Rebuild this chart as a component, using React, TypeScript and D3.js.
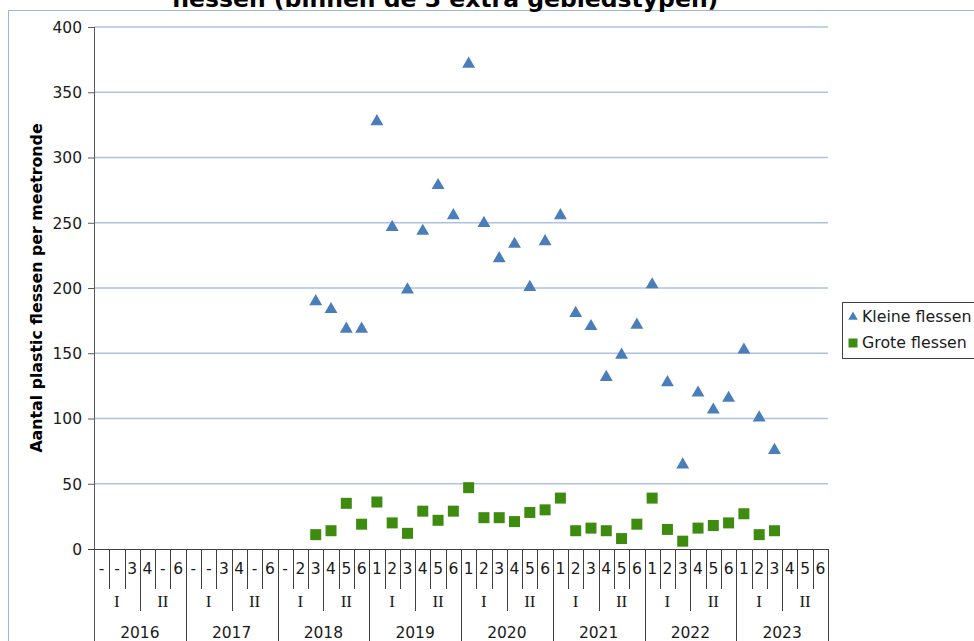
import React, { useRef, useEffect } from "react";
import * as d3 from "d3";

const years = ["2016", "2017", "2018", "2019", "2020", "2021", "2022", "2023"];
const halves = ["I", "II"];
const slotLabels = [
  ["-", "-", "3", "4", "-", "6"],
  ["-", "-", "3", "4", "-", "6"],
  ["-", "2", "3", "4", "5", "6"],
  ["1", "2", "3", "4", "5", "6"],
  ["1", "2", "3", "4", "5", "6"],
  ["1", "2", "3", "4", "5", "6"],
  ["1", "2", "3", "4", "5", "6"],
  ["1", "2", "3", "4", "5", "6"],
];

// per year, slots 1..6 (null = no measurement)
const kleineFlessen = [
  [null, null, null, null, null, null],
  [null, null, null, null, null, null],
  [null, null, 191, 185, 170, 170],
  [329, 248, 200, 245, 280, 257],
  [373, 251, 224, 235, 202, 237],
  [257, 182, 172, 133, 150, 173],
  [204, 129, 66, 121, 108, 117],
  [154, 102, 77, null, null, null],
];
const groteFlessen = [
  [null, null, null, null, null, null],
  [null, null, null, null, null, null],
  [null, null, 11, 14, 35, 19],
  [36, 20, 12, 29, 22, 29],
  [47, 24, 24, 21, 28, 30],
  [39, 14, 16, 14, 8, 19],
  [39, 15, 6, 16, 18, 20],
  [27, 11, 14, null, null, null],
];
const yTicks = [0, 50, 100, 150, 200, 250, 300, 350, 400];

const title = "flessen (binnen de 3 extra gebiedstypen)";
const yTitle = "Aantal plastic flessen per meetronde";
const seriesNames = ["Kleine flessen", "Grote flessen"];

const W = 974;
const H = 641;
const blue = "#4a7ebb";
const green = "#3d8b0f";
const sans = "'DejaVu Sans', Verdana, sans-serif";

const App = () => {
  const chartRef = useRef(null);

  useEffect(() => {
    const svg = d3.select(chartRef.current);
    svg.selectAll("*").remove();

    const margin = { top: 27, left: 94, right: 146, bottom: 92 };
    const slots = years.flatMap((y, i) => slotLabels[i].map((_, j) => `${y}-${j}`));

    const x = d3.scaleBand().domain(slots).range([margin.left, W - margin.right]).padding(0);
    const y = d3.scaleLinear().domain([0, 400]).range([H - margin.bottom, margin.top]);
    const y0 = y(0);

    // outer frame
    svg.append("rect")
      .attr("x", 8.5).attr("y", 10.5)
      .attr("width", W + 10).attr("height", H + 10)
      .attr("fill", "white").attr("stroke", "#9bb5da");

    // title (top of it falls outside the picture, as in the source)
    svg.append("text")
      .attr("x", 445).attr("y", 7)
      .attr("text-anchor", "middle")
      .attr("font-family", sans).attr("font-weight", "bold").attr("font-size", 23.5)
      .text(title);

    // gridlines
    svg.append("g").selectAll("line")
      .data(yTicks.filter(d => d > 0))
      .enter().append("line")
      .attr("x1", margin.left).attr("x2", W - margin.right)
      .attr("y1", d => y(d)).attr("y2", d => y(d))
      .attr("stroke", "#adc2e2").attr("stroke-width", 1.5);

    // y axis
    const yAxis = svg.append("g")
      .attr("transform", "translate(" + margin.left + ",0)")
      .call(d3.axisLeft(y).tickValues(yTicks).tickSize(6).tickSizeOuter(0));
    yAxis.select(".domain").remove();
    yAxis.selectAll("line").attr("stroke", "#595959");
    yAxis.selectAll("text")
      .attr("font-family", sans).attr("font-size", 15.5).attr("fill", "#1a1a1a")
      .attr("x", -12).attr("dy", "0.35em");
    svg.append("line")
      .attr("x1", margin.left + 0.5).attr("x2", margin.left + 0.5)
      .attr("y1", margin.top).attr("y2", H + 5)
      .attr("stroke", "#595959");

    svg.append("text")
      .attr("transform", "translate(42," + (margin.top + y0) / 2 + ") rotate(-90)")
      .attr("text-anchor", "middle")
      .attr("font-family", sans).attr("font-weight", "bold").attr("font-size", 15.8)
      .text(yTitle);

    // x axis: three levels
    svg.append("line")
      .attr("x1", margin.left - 6).attr("x2", W - margin.right)
      .attr("y1", y0 + 0.5).attr("y2", y0 + 0.5)
      .attr("stroke", "#404040");

    const xa = svg.append("g");
    slots.forEach((s, k) => {
      const yi = Math.floor(k / 6);
      const j = k % 6;
      const left = x(s);
      const bottom = j === 0 ? H + 5 : j === 3 ? y0 + 62 : y0 + 40;
      if (k > 0) {
        xa.append("line")
          .attr("x1", Math.round(left) + 0.5).attr("x2", Math.round(left) + 0.5)
          .attr("y1", y0).attr("y2", bottom)
          .attr("stroke", "#404040");
      }
      xa.append("text")
        .attr("x", left + x.bandwidth() / 2).attr("y", y0 + 25)
        .attr("text-anchor", "middle")
        .attr("font-family", sans).attr("font-size", 15.5).attr("fill", "#1a1a1a")
        .text(slotLabels[yi][j]);
    });
    const rEnd = W - margin.right;
    xa.append("line")
      .attr("x1", rEnd + 0.5).attr("x2", rEnd + 0.5)
      .attr("y1", y0).attr("y2", H + 5)
      .attr("stroke", "#404040");

    years.forEach((yr, i) => {
      const start = x(`${yr}-0`);
      const w = x.bandwidth() * 6;
      halves.forEach((h, hi) => {
        xa.append("text")
          .attr("x", start + w / 4 + (hi * w) / 2).attr("y", y0 + 58)
          .attr("text-anchor", "middle")
          .attr("font-family", "'Liberation Serif', 'Times New Roman', serif")
          .attr("font-size", 17).attr("fill", "#1a1a1a")
          .text(h);
      });
      xa.append("text")
        .attr("x", start + w / 2).attr("y", y0 + 89)
        .attr("text-anchor", "middle")
        .attr("font-family", sans).attr("font-size", 15.5).attr("fill", "#1a1a1a")
        .text(yr);
    });

    // points
    const pts = (vals) => years.flatMap((yr, i) =>
      vals[i].map((v, j) => ({ key: `${yr}-${j}`, v })).filter(d => d.v !== null));

    const tri = d3.symbol(d3.symbolTriangle, 72);
    const sq = d3.symbol(d3.symbolSquare, 121);

    svg.append("g").selectAll("path")
      .data(pts(kleineFlessen))
      .enter().append("path")
      .attr("d", tri)
      .attr("transform", d => "translate(" + (x(d.key) + x.bandwidth() / 2) + "," + (y(d.v) + 1.8) + ")")
      .attr("fill", blue);

    svg.append("g").selectAll("path")
      .data(pts(groteFlessen))
      .enter().append("path")
      .attr("d", sq)
      .attr("transform", d => "translate(" + (x(d.key) + x.bandwidth() / 2) + "," + y(d.v) + ")")
      .attr("fill", green);

    // legend
    const lg = svg.append("g").attr("transform", "translate(842,302)");
    lg.append("rect")
      .attr("x", 0.5).attr("y", 0.5).attr("width", 160).attr("height", 56)
      .attr("fill", "white").attr("stroke", "#404040");
    lg.append("path").attr("d", d3.symbol(d3.symbolTriangle, 40))
      .attr("transform", "translate(11,15)").attr("fill", blue);
    lg.append("path").attr("d", d3.symbol(d3.symbolSquare, 81))
      .attr("transform", "translate(11,41)").attr("fill", green);
    seriesNames.forEach((n, i) => {
      lg.append("text")
        .attr("x", 20).attr("y", 20 + i * 26)
        .attr("font-family", sans).attr("font-size", 15.8).attr("fill", "#1a1a1a")
        .text(n);
    });
  }, []);

  return (
    <svg ref={chartRef} width={W} height={H}
      style={{ position: "absolute", left: 0, top: 0, background: "white" }} />
  );
};

export default App;
